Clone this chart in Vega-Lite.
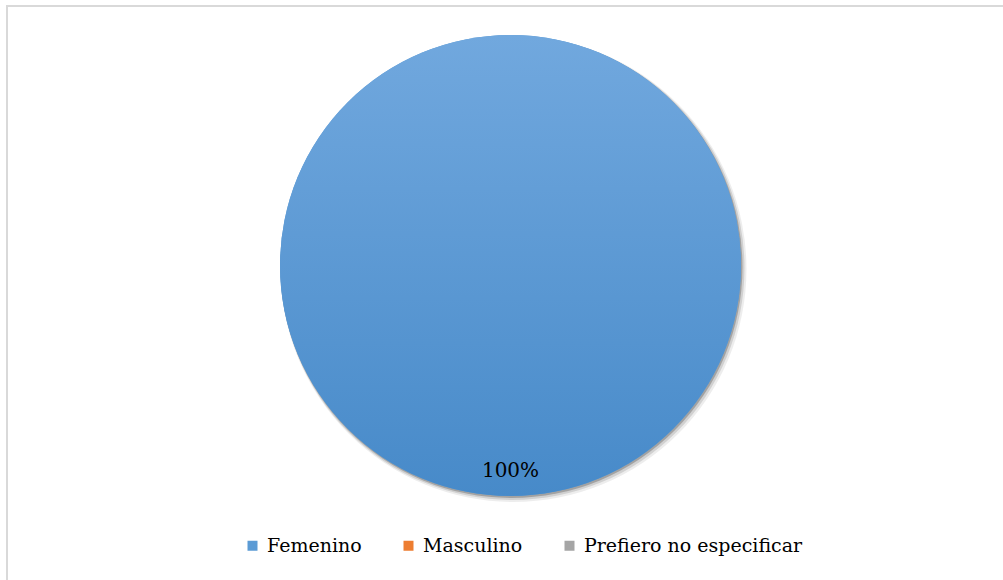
{
  "$schema": "https://vega.github.io/schema/vega-lite/v6.json",
  "autosize": "none",
  "width": 1000,
  "height": 580,
  "padding": {"left": 7, "top": 6, "right": 0, "bottom": 0},
  "background": "white",
  "view": {"stroke": "#d9d9d9", "strokeWidth": 2, "fill": "white"},
  "config": {
    "view": {"stroke": "#d9d9d9", "strokeWidth": 2},
    "font": "DejaVu Serif",
    "legend": {"labelFont": "DejaVu Serif", "labelFontSize": 19, "labelLimit": 0}
  },
  "data": {
    "values": [
      {"categoria": "Femenino", "valor": 1},
      {"categoria": "Masculino", "valor": 0},
      {"categoria": "Prefiero no especificar", "valor": 0}
    ]
  },
  "layer": [
    {
      "mark": {"type": "arc", "radius": 233, "xOffset": 6.5, "yOffset": -27, "fill": "#000000", "opacity": 0.07},
      "encoding": {"theta": {"field": "valor", "type": "quantitative", "stack": true}}
    },
    {
      "mark": {"type": "arc", "radius": 232, "xOffset": 5.5, "yOffset": -28, "fill": "#000000", "opacity": 0.12},
      "encoding": {"theta": {"field": "valor", "type": "quantitative", "stack": true}}
    },
    {
      "mark": {"type": "arc", "radius": 231, "xOffset": 4.5, "yOffset": -29, "fill": "#000000", "opacity": 0.22},
      "encoding": {"theta": {"field": "valor", "type": "quantitative", "stack": true}}
    },
    {
      "mark": {"type": "arc", "radius": 230.5, "xOffset": 3.5, "yOffset": -30.5},
      "encoding": {
        "theta": {"field": "valor", "type": "quantitative", "stack": true},
        "color": {
          "field": "categoria",
          "type": "nominal",
          "sort": ["Femenino", "Masculino", "Prefiero no especificar"],
          "scale": {"domain": ["Femenino", "Masculino", "Prefiero no especificar"], "range": ["#5b9bd5", "#ed7d31", "#a5a5a5"]},
          "legend": {
            "title": null,
            "orient": "none",
            "direction": "horizontal",
            "legendX": 236,
            "legendY": 530,
            "symbolType": "square",
            "symbolSize": 100,
            "symbolStrokeWidth": 0,
            "labelFont": "DejaVu Serif",
            "labelFontSize": 19,
            "labelLimit": 0,
            "labelColor": "#000000",
            "labelOffset": 5,
            "columnPadding": 37,
            "padding": 0
          }
        }
      }
    },
    {
      "mark": {
        "type": "arc",
        "radius": 230.5,
        "xOffset": 3.5,
        "yOffset": -30.5,
        "fill": {
          "gradient": "linear",
          "x1": 0, "y1": 0, "x2": 0, "y2": 1,
          "stops": [
            {"offset": 0, "color": "#71a8de"},
            {"offset": 1, "color": "#478ac9"}
          ]
        }
      },
      "encoding": {"theta": {"field": "valor", "type": "quantitative", "stack": true}}
    },
    {
      "transform": [{"filter": "datum.valor > 0"}],
      "mark": {"type": "text", "radius": 205, "xOffset": 3.5, "yOffset": -30.5, "font": "DejaVu Serif", "fontSize": 20, "color": "#000000"},
      "encoding": {
        "theta": {"field": "valor", "type": "quantitative", "stack": true},
        "text": {"field": "valor", "type": "quantitative", "format": ".0%"}
      }
    }
  ]
}
